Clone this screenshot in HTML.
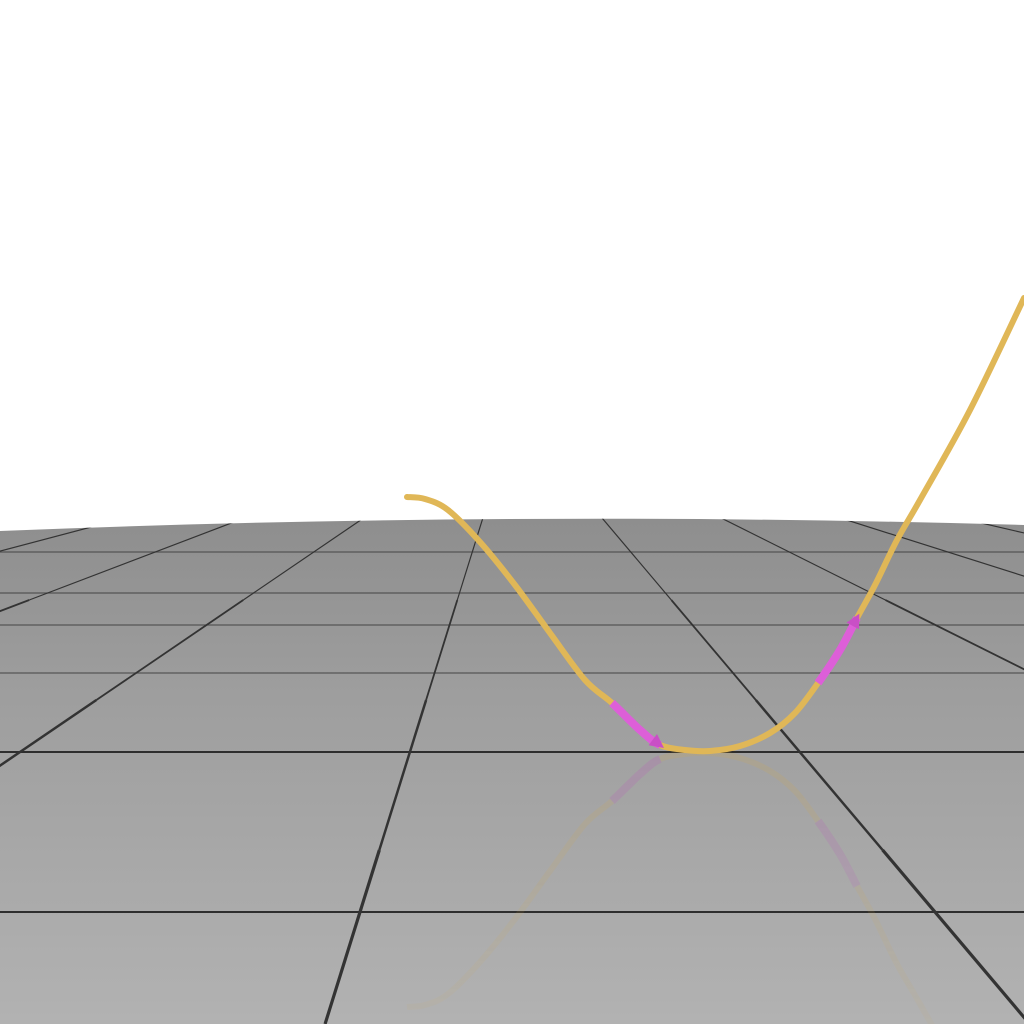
<!DOCTYPE html>
<html><head><meta charset="utf-8"><style>
html,body{margin:0;padding:0;background:#fff;width:1024px;height:1024px;overflow:hidden}
svg{display:block}
</style></head><body>
<svg id="scene" width="1024" height="1024" viewBox="0 0 1024 1024" xmlns="http://www.w3.org/2000/svg">
<defs>
<linearGradient id="floorGrad" x1="0" y1="0" x2="0" y2="1">
<stop offset="0" stop-color="#8e8e8e"/><stop offset="0.35" stop-color="#9e9e9e"/><stop offset="1" stop-color="#b2b2b2"/>
</linearGradient>
<linearGradient id="fadeGrad" x1="0" y1="752" x2="0" y2="1024" gradientUnits="userSpaceOnUse">
<stop offset="0" stop-color="#fff" stop-opacity="1"/><stop offset="1" stop-color="#fff" stop-opacity="0.35"/>
</linearGradient>
<mask id="fadeMask"><rect x="0" y="752" width="1024" height="272" fill="url(#fadeGrad)"/></mask>
<clipPath id="floorClip"><path d="M0,531 Q512,510 1024,525 L1024,1024 L0,1024 Z"/></clipPath>
</defs>
<rect width="1024" height="1024" fill="#ffffff"/>
<path d="M0,531 Q512,510 1024,525 L1024,1024 L0,1024 Z" fill="url(#floorGrad)"/>
<g id="grid" clip-path="url(#floorClip)"></g>
<g clip-path="url(#floorClip)"><g id="reflection" mask="url(#fadeMask)" opacity="0.17"></g></g>
<g id="curveGroup"></g>
</svg>
<script>
const curveX = [407,425,448,480,515,550,585,612,640,660,685,710,740,770,795,818,840,857,875,897,920,970,1024];
const curveY = [497,499,510,542,585,633,680,703,730,745,750,751,746,733,713,683,650,618,585,540,500,410,298];
const arrow1Idx = [7,9];
const arrow2Idx = [15,17];
const hLineY = [552,593,625,673,752,912];
const vp = {x:515,y:415};

const NS='http://www.w3.org/2000/svg';
const grid=document.getElementById('grid');
for(const y of hLineY){
  const l=document.createElementNS(NS,'line');
  l.setAttribute('x1',0);l.setAttribute('x2',1024);l.setAttribute('y1',y);l.setAttribute('y2',y);
  l.setAttribute('stroke',y>700?'#2e2e2e':'#555');l.setAttribute('stroke-width',y>700?2:1.2);
  
  
  grid.appendChild(l);
}
for(let k=-8;k<=8;k++){
  const bx=360+575*k, by=912;
  const pts=[];
  for(const y of [515,600,700,850,1024]){
    const t=(y-vp.y)/(by-vp.y);
    pts.push([vp.x+(bx-vp.x)*t,y]);
  }
  for(let s=0;s<pts.length-1;s++){
    const l=document.createElementNS(NS,'line');
    l.setAttribute('x1',pts[s][0]);l.setAttribute('y1',pts[s][1]);l.setAttribute('x2',pts[s+1][0]);l.setAttribute('y2',pts[s+1][1]);
    l.setAttribute('stroke','#333');l.setAttribute('stroke-width',[1.2,1.8,2.5,3.2][s]);
    
    
    grid.appendChild(l);
  }
}
function pathFrom(xs,ys,a,b){
  let d='M'+xs[a]+','+ys[a];
  for(let i=a;i<b;i++){
    const p0=[xs[Math.max(i-1,0)],ys[Math.max(i-1,0)]],p1=[xs[i],ys[i]],p2=[xs[i+1],ys[i+1]],p3=[xs[Math.min(i+2,xs.length-1)],ys[Math.min(i+2,xs.length-1)]];
    const c1=[p1[0]+(p2[0]-p0[0])/6,p1[1]+(p2[1]-p0[1])/6];
    const c2=[p2[0]-(p3[0]-p1[0])/6,p2[1]-(p3[1]-p1[1])/6];
    d+=` C${c1[0]},${c1[1]} ${c2[0]},${c2[1]} ${p2[0]},${p2[1]}`;
  }
  return d;
}
const n=curveX.length;
const cg=document.getElementById('curveGroup');
const main=document.createElementNS(NS,'path');
main.setAttribute('d',pathFrom(curveX,curveY,0,n-1));
main.setAttribute('fill','none');main.setAttribute('stroke','#e0b757');main.setAttribute('stroke-width',6);
main.setAttribute('stroke-linecap','round');


cg.appendChild(main);
function arrow(idx,name){
  const p=document.createElementNS(NS,'path');
  p.setAttribute('d',pathFrom(curveX,curveY,idx[0],idx[1]));
  p.setAttribute('fill','none');p.setAttribute('stroke','#dd5fd8');p.setAttribute('stroke-width',8);
  
  
  cg.appendChild(p);
  const i=idx[1],j=idx[1]-1;
  const dx=curveX[i]-curveX[j],dy=curveY[i]-curveY[j],L=Math.hypot(dx,dy);
  const ux=dx/L,uy=dy/L,px=-uy,py=ux;
  const tx=curveX[i]+ux*5,ty=curveY[i]+uy*5;
  const h=document.createElementNS(NS,'polygon');
  h.setAttribute('points',`${tx},${ty} ${curveX[i]-ux*9+px*7},${curveY[i]-uy*9+py*7} ${curveX[i]-ux*9-px*7},${curveY[i]-uy*9-py*7}`);
  h.setAttribute('fill','#c94fc6');
  
  
  cg.appendChild(h);
}
arrow(arrow1Idx,'arrow-segment-1');
arrow(arrow2Idx,'arrow-segment-2');
const ref=document.getElementById('reflection');
const mirY=curveY.map(y=>2*752-y);
const rp=document.createElementNS(NS,'path');
rp.setAttribute('d',pathFrom(curveX,mirY,0,n-1));
rp.setAttribute('fill','none');rp.setAttribute('stroke','#d6a840');rp.setAttribute('stroke-width',6);


ref.appendChild(rp);
for(const idx of [arrow1Idx,arrow2Idx]){
  const p=document.createElementNS(NS,'path');
  p.setAttribute('d',pathFrom(curveX,mirY,idx[0],idx[1]));
  p.setAttribute('fill','none');p.setAttribute('stroke','#c040c0');p.setAttribute('stroke-width',8);
  
  
  ref.appendChild(p);
}
</script>
</body></html>
